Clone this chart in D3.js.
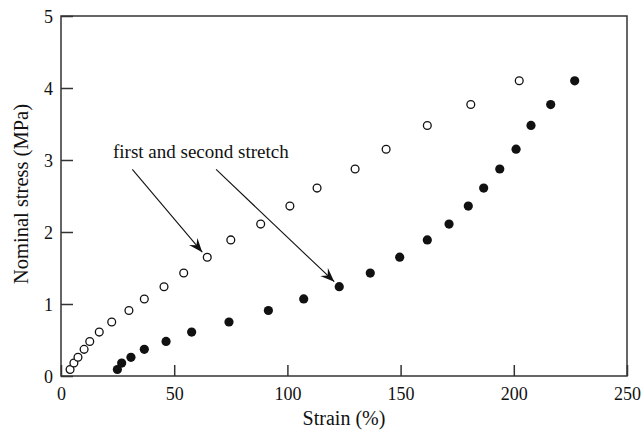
<!DOCTYPE html>
<html>
<head>
<meta charset="utf-8">
<script src="https://cdn.jsdelivr.net/npm/d3@7"></script>
<style>
  body { margin: 0; background: #fff; }
  text { font-family: "Liberation Serif", "Times New Roman", serif; fill: #111; }
</style>
</head>
<body>
<svg id="chart" width="641" height="430"></svg>
<script>
// first stretch (open circles)
var strainFirst = [4.0, 5.7, 7.5, 10.2, 12.7, 16.9, 22.4, 30.0, 36.8, 45.5, 54.2, 64.6, 75.0, 88.2, 101.1, 113.1, 129.9, 143.6, 161.8, 181.0, 202.4]
// second stretch (filled circles)
var strainSecond = [24.9, 26.8, 30.9, 36.8, 46.4, 57.7, 74.2, 91.6, 107.2, 122.9, 136.6, 149.6, 161.8, 171.4, 179.9, 186.7, 193.8, 201.0, 207.6, 216.3, 226.9]
var stress = [0.09, 0.18, 0.26, 0.37, 0.48, 0.61, 0.75, 0.91, 1.07, 1.24, 1.43, 1.65, 1.89, 2.11, 2.36, 2.61, 2.875, 3.15, 3.48, 3.77, 4.10]

var xTicks = [0, 50, 100, 150, 200, 250]
var yTicks = [0, 1, 2, 3, 4, 5]

var dimensions = {
        width: 641,
        height: 430,
        margin: { top: 16, bottom: 54, right: 14, left: 61 }
}
dimensions.boundedWidth = dimensions.width - dimensions.margin.left - dimensions.margin.right
dimensions.boundedHeight = dimensions.height - dimensions.margin.top - dimensions.margin.bottom

var svg = d3.select("#chart")

var bounds = svg.append("g")
        .attr("transform", "translate(" + dimensions.margin.left + "," + dimensions.margin.top + ")")

var xScale = d3.scaleLinear().domain([0, 250]).range([0, dimensions.boundedWidth])
var yScale = d3.scaleLinear().domain([0, 5]).range([dimensions.boundedHeight, 0])

// frame
bounds.append("rect")
        .attr("width", dimensions.boundedWidth)
        .attr("height", dimensions.boundedHeight)
        .attr("fill", "none")
        .attr("stroke", "#333")
        .attr("stroke-width", 1.5)

// axes with ticks pointing inward
var xAxis = bounds.append("g")
        .attr("transform", "translate(0," + dimensions.boundedHeight + ")")
        .call(d3.axisBottom(xScale).tickValues(xTicks).tickFormat(d3.format("d"))
                .tickSizeInner(-11).tickSizeOuter(0).tickPadding(22))
var yAxis = bounds.append("g")
        .call(d3.axisLeft(yScale).tickValues(yTicks).tickFormat(d3.format("d"))
                .tickSizeInner(-12).tickSizeOuter(0).tickPadding(8))

;[xAxis, yAxis].forEach(function (ax) {
        ax.attr("font-family", null).attr("font-size", null)
        ax.select(".domain").remove()
        ax.selectAll("line").attr("stroke", "#333").attr("stroke-width", 1.5)
        ax.selectAll("text")
                .style("font-family", "'Liberation Serif', serif")
                .style("font-size", "18px")
                .attr("fill", "#111")
})
xAxis.selectAll("text").attr("dy", "0.1em")
yAxis.selectAll("text").attr("dy", "0.35em")

// axis titles
svg.append("text")
        .attr("x", 344)
        .attr("y", 425)
        .attr("text-anchor", "middle")
        .style("font-size", "20px")
        .text("Strain (%)")

svg.append("text")
        .attr("transform", "translate(28,194) rotate(-90)")
        .attr("text-anchor", "middle")
        .style("font-size", "20.5px")
        .text("Nominal stress (MPa)")

// points
bounds.selectAll(".first")
        .data(stress)
        .enter()
        .append("circle")
        .attr("class", "first")
        .attr("cx", function (d, i) { return xScale(strainFirst[i]) })
        .attr("cy", function (d) { return yScale(d) })
        .attr("r", 3.9)
        .attr("fill", "#fff")
        .attr("stroke", "#111")
        .attr("stroke-width", 1.3)

bounds.selectAll(".second")
        .data(stress)
        .enter()
        .append("circle")
        .attr("class", "second")
        .attr("cx", function (d, i) { return xScale(strainSecond[i]) })
        .attr("cy", function (d) { return yScale(d) })
        .attr("r", 4.6)
        .attr("fill", "#111")

// annotation
svg.append("defs").append("marker")
        .attr("id", "arrow")
        .attr("viewBox", "-14 -7 16 14")
        .attr("markerWidth", 16)
        .attr("markerHeight", 14)
        .attr("markerUnits", "userSpaceOnUse")
        .attr("orient", "auto")
        .append("path")
        .attr("d", "M0,0 L-14,-5.5 L-9,0 L-14,5.5 Z")
        .attr("fill", "#111")

svg.append("text")
        .attr("x", 113)
        .attr("y", 158)
        .style("font-size", "19px")
        .text("first and second stretch")

var arrowTargets = [[strainFirst[11], stress[11]], [strainSecond[9], stress[9]]]
var arrowStarts = [[31.5, 2.98], [68.5, 2.98]]

bounds.selectAll(".arrow")
        .data(arrowTargets)
        .enter()
        .append("line")
        .attr("class", "arrow")
        .attr("x1", function (d, i) { return xScale(arrowStarts[i][0]) })
        .attr("y1", function (d, i) { return yScale(arrowStarts[i][1]) + 8 })
        .attr("x2", function (d) { return xScale(d[0]) - 5 })
        .attr("y2", function (d) { return yScale(d[1]) - 5 })
        .attr("stroke", "#111")
        .attr("stroke-width", 1.1)
        .attr("marker-end", "url(#arrow)")
</script>
</body>
</html>
